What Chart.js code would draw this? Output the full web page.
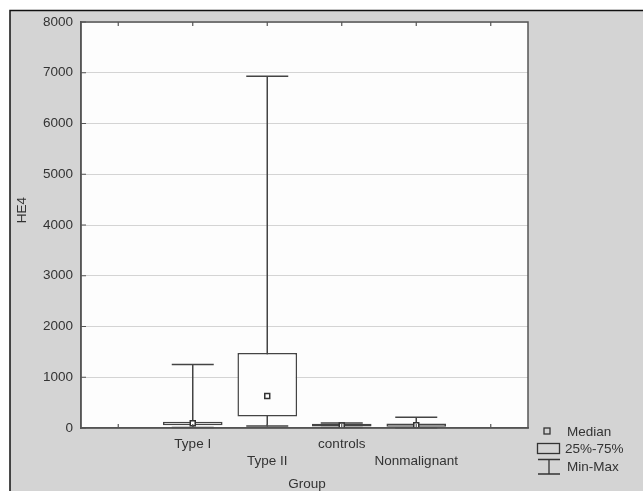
<!DOCTYPE html>
<html>
<head>
<meta charset="utf-8">
<script src="https://cdn.jsdelivr.net/npm/chart.js@4.4.1/dist/chart.umd.min.js"></script>
<style>
  html, body { margin: 0; padding: 0; background: #fff; }
  canvas { display: block; }
</style>
</head>
<body>
<canvas id="boxChart" width="643" height="491"></canvas>
<script>
// categories (empty slots on both ends, like the original plot)
const groups = ['', 'Type I', 'Type II', 'controls', 'Nonmalignant', ''];
const minValues = [null, 10, 40, 10, 5, null];
const q1Values = [null, 55, 225, 30, 25, null];
const medianValues = [null, 95, 630, 50, 55, null];
const q3Values = [null, 125, 1480, 85, 90, null];
const maxValues = [null, 1250, 6930, 100, 210, null];
const yTicks = [0, 1000, 2000, 3000, 4000, 5000, 6000, 7000, 8000];

const FONT = '"Liberation Sans", Arial, sans-serif';
const TEXT = '#333';
const LINE = '#444';

const boxData = groups.map((g, i) => q1Values[i] == null ? null : [q1Values[i], q3Values[i]]);

// background, frame and the box around the plot
const framePlugin = {
    id: 'frame',
    beforeDraw(chart) {
        const { ctx, chartArea: a } = chart;
        ctx.save();
        ctx.fillStyle = '#fff';
        ctx.fillRect(0, 0, chart.width, chart.height);
        ctx.fillStyle = '#d4d4d4';
        ctx.fillRect(10, 10, chart.width - 10, chart.height - 10);
        ctx.strokeStyle = '#111';
        ctx.lineWidth = 1.5;
        ctx.beginPath();
        ctx.moveTo(10, chart.height);
        ctx.lineTo(10, 10.5);
        ctx.lineTo(chart.width, 10.5);
        ctx.stroke();
        ctx.fillStyle = '#fdfdfd';
        ctx.fillRect(a.left, a.top, a.right - a.left, a.bottom - a.top);
        ctx.restore();
    },
    afterDraw(chart) {
        const { ctx, chartArea: a, scales } = chart;
        ctx.save();
        ctx.strokeStyle = '#555';
        ctx.lineWidth = 1.5;
        ctx.strokeRect(a.left, a.top, a.right - a.left, a.bottom - a.top);

        // inward tick marks
        ctx.lineWidth = 1.2;
        ctx.beginPath();
        yTicks.forEach(v => {
            const y = scales.y.getPixelForValue(v);
            ctx.moveTo(a.left, y);
            ctx.lineTo(a.left + 5, y);
        });
        groups.forEach((g, i) => {
            const x = scales.x.getPixelForValue(i);
            ctx.moveTo(x, a.top);
            ctx.lineTo(x, a.top + 4);
            ctx.moveTo(x, a.bottom);
            ctx.lineTo(x, a.bottom - 4);
        });
        ctx.stroke();

        // axis titles
        ctx.fillStyle = TEXT;
        ctx.font = '13.5px ' + FONT;
        ctx.textAlign = 'center';
        ctx.textBaseline = 'middle';
        ctx.fillText('Group', 307, 484);
        ctx.save();
        ctx.translate(22, 210);
        ctx.rotate(-Math.PI / 2);
        ctx.fillText('HE4', 0, 0);
        ctx.restore();

        // legend
        ctx.strokeStyle = '#333';
        ctx.lineWidth = 1.3;
        ctx.strokeRect(544, 428, 6, 6);
        ctx.strokeRect(537.5, 443.5, 22, 10);
        ctx.beginPath();
        ctx.moveTo(538, 459.5); ctx.lineTo(560, 459.5);
        ctx.moveTo(549, 459.5); ctx.lineTo(549, 474);
        ctx.moveTo(538, 474); ctx.lineTo(560, 474);
        ctx.stroke();
        ctx.textAlign = 'left';
        ctx.font = '13.5px ' + FONT;
        ctx.fillText('Median', 567, 432);
        ctx.fillText('25%-75%', 565, 449);
        ctx.fillText('Min-Max', 567, 467);
        ctx.restore();
    }
};

// min-max whiskers, drawn before the boxes so the box hides the stem
const whiskerPlugin = {
    id: 'whiskers',
    beforeDatasetsDraw(chart) {
        const { ctx, scales } = chart;
        ctx.save();
        ctx.strokeStyle = LINE;
        ctx.lineWidth = 1.5;
        ctx.beginPath();
        groups.forEach((g, i) => {
            if (maxValues[i] == null) return;
            const x = scales.x.getPixelForValue(i);
            const yTop = scales.y.getPixelForValue(maxValues[i]);
            const yBot = scales.y.getPixelForValue(minValues[i]);
            ctx.moveTo(x, yTop);
            ctx.lineTo(x, yBot);
            ctx.moveTo(x - 21, yTop);
            ctx.lineTo(x + 21, yTop);
            ctx.moveTo(x - 21, yBot);
            ctx.lineTo(x + 21, yBot);
        });
        ctx.stroke();
        ctx.restore();
    }
};

new Chart(document.getElementById('boxChart'), {
    type: 'bar',
    data: {
        labels: groups,
        datasets: [
            {
                type: 'line',
                label: 'Median',
                data: medianValues,
                showLine: false,
                pointStyle: 'rect',
                pointRadius: 3.5,
                pointBackgroundColor: '#fff',
                pointBorderColor: '#333',
                pointBorderWidth: 1.5,
                order: 0
            },
            {
                label: '25%-75%',
                data: boxData,
                backgroundColor: '#fdfdfd',
                borderColor: LINE,
                borderWidth: 1.5,
                borderSkipped: false,
                barPercentage: 1,
                categoryPercentage: 0.8,
                order: 1
            }
        ]
    },
    options: {
        responsive: false,
        animation: false,
        layout: { padding: { top: 22, right: 115, left: 0, bottom: 0 } },
        plugins: {
            legend: { display: false },
            tooltip: { enabled: false }
        },
        scales: {
            x: {
                afterFit: s => { s.height = 63; },
                grid: { display: false, drawTicks: false },
                border: { display: true, color: '#555', width: 1.5 },
                ticks: {
                    padding: 8,
                    maxRotation: 0,
                    autoSkip: false,
                    color: TEXT,
                    font: { family: FONT, size: 13.5, lineHeight: 1.25 },
                    callback: (v, i) => i % 2 === 1 ? groups[i] : ['', groups[i]]
                }
            },
            y: {
                min: 0,
                max: 8000,
                afterFit: s => { s.width = 81; },
                afterBuildTicks: s => { s.ticks = yTicks.map(v => ({ value: v })); },
                grid: { color: '#d4d4d4', drawTicks: false },
                border: { display: true, color: '#555', width: 1.5 },
                ticks: {
                    padding: 8,
                    color: TEXT,
                    font: { family: FONT, size: 13.5 },
                    callback: v => String(v)
                }
            }
        }
    },
    plugins: [framePlugin, whiskerPlugin]
});
</script>
</body>
</html>
